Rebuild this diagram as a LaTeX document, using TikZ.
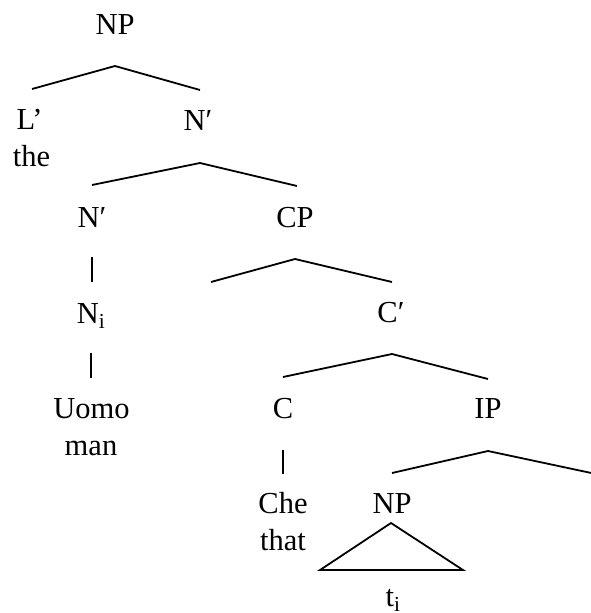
\documentclass[tikz,border=0pt]{standalone}
\usepackage{fontspec}
\setmainfont{Liberation Serif}
\usepackage{tikz}

\begin{document}
\begin{tikzpicture}[x=1pt,y=-1pt,line width=1.8pt,
                    cat node/.style={inner sep=0pt,anchor=base,font=\fontsize{30.5}{36.6}\selectfont}]
  \useasboundingbox (0,0) rectangle (590,613);

  % labels
  \node[cat node] (np) at (115,34) {NP};
  \node[cat node] (det) at (29.5,129) {L’};
  \node[cat node] (det-gl) at (31.5,166) {the};
  \node[cat node] (nbar) at (198,130) {N′};
  \node[cat node] (nbar2) at (92,227) {N′};
  \node[cat node] (cp) at (295,227) {CP};
  \node[cat node] (n) at (91,323) {N\textsubscript{i}};
  \node[cat node] (cbar) at (391,322) {C′};
  \node[cat node] (noun) at (91.5,418) {Uomo};
  \node[cat node] (noun-gl) at (91,455) {man};
  \node[cat node] (c) at (283,418) {C};
  \node[cat node] (ip) at (488,418) {IP};
  \node[cat node] (comp) at (283,513) {Che};
  \node[cat node] (comp-gl) at (283,550) {that};
  \node[cat node] (np2) at (392,513) {NP};
  \node[cat node] (trace) at (393,606) {t\textsubscript{i}};

  % branch points
  \coordinate (np-a) at (115,66);   \coordinate (np-l) at (32,89);   \coordinate (np-r) at (200,90);
  \coordinate (nbar-a) at (200,163); \coordinate (nbar-l) at (92,185); \coordinate (nbar-r) at (297,186);
  \coordinate (nbar2-a) at (92,257); \coordinate (nbar2-b) at (92,282);
  \coordinate (cp-a) at (295,259);  \coordinate (cp-l) at (211,282);  \coordinate (cp-r) at (392,282);
  \coordinate (n-a) at (91,353);    \coordinate (n-b) at (91,378);
  \coordinate (cbar-a) at (392,354); \coordinate (cbar-l) at (283,377); \coordinate (cbar-r) at (488,379);
  \coordinate (c-a) at (283,450);   \coordinate (c-b) at (283,474);
  \coordinate (ip-a) at (488,451);  \coordinate (ip-l) at (392,473);  \coordinate (ip-r) at (596,474);
  \coordinate (tri-a) at (391,523); \coordinate (tri-l) at (320,570); \coordinate (tri-r) at (463,570);

  % branches
  \draw (np-l) -- (np-a) -- (np-r);
  \draw (nbar-l) -- (nbar-a) -- (nbar-r);
  \draw (nbar2-a) -- (nbar2-b);
  \draw (cp-l) -- (cp-a) -- (cp-r);
  \draw (n-a) -- (n-b);
  \draw (cbar-l) -- (cbar-a) -- (cbar-r);
  \draw (c-a) -- (c-b);
  \draw (ip-l) -- (ip-a) -- (ip-r);
  \draw (tri-a) -- (tri-l) -- (tri-r) -- cycle;
\end{tikzpicture}
\end{document}
